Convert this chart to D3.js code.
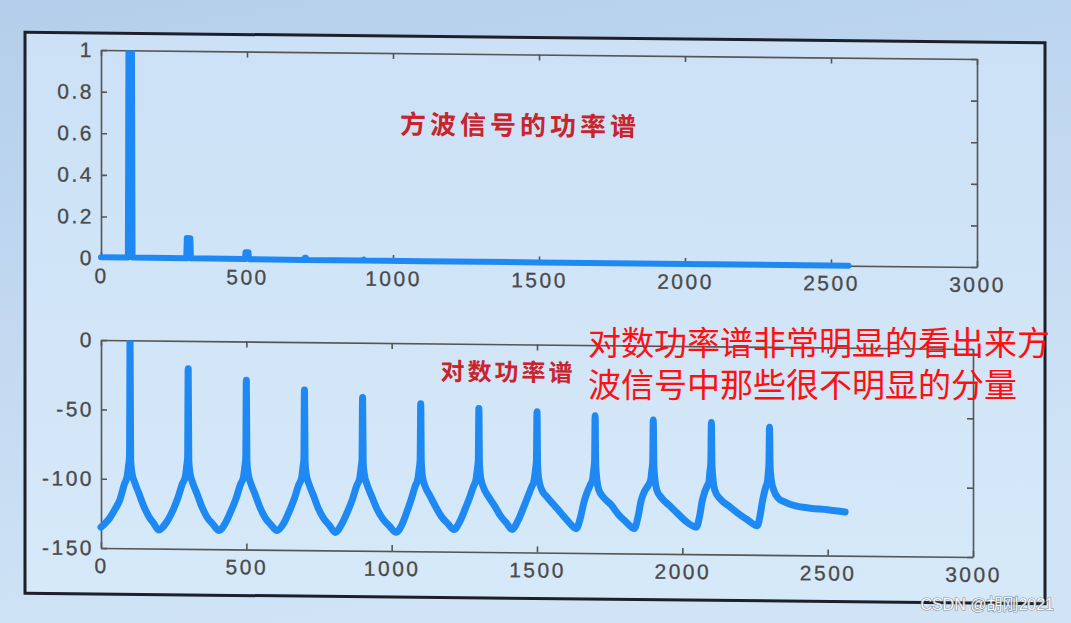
<!DOCTYPE html>
<html><head><meta charset="utf-8">
<script src="https://cdn.jsdelivr.net/npm/d3@7"></script>
<style>
html,body{margin:0;padding:0;background:#c6dcf2;}
svg{display:block;}
</style></head>
<body>
<svg id="chart" width="1071" height="623"></svg>
<script>
// ---------- data ----------
const xTicks = [0, 500, 1000, 1500, 2000, 2500, 3000];
const xTickLabels = ["0", "500", "1000", "1500", "2000", "2500", "3000"];
const topYTicks = [0, 0.2, 0.4, 0.6, 0.8, 1];
const topYTickLabels = ["0", "0.2", "0.4", "0.6", "0.8", "1"];
const botYTicks = [-150, -100, -50, 0];
const botYTickLabels = ["-150", "-100", "-50", "0"];

const topTitle = "方波信号的功率谱";
const botTitle = "对数功率谱";
const noteLines = ["对数功率谱非常明显的看出来方", "波信号中那些很不明显的分量"];
const watermark = "CSDN @胡刚2021";

// power spectrum (normalised)
const powerFreq  = [0, 92, 94, 106, 108, 292, 294, 306, 308, 493, 495, 505, 507, 696, 698, 702, 704, 897, 899, 901, 903, 1100, 1500, 2000, 2560];
const powerValue = [0.004, 0.004, 1, 1, 0.004, 0.003, 0.1, 0.1, 0.003, 0.002, 0.035, 0.035, 0.002, 0.001, 0.012, 0.012, 0.001, 0.001, 0.006, 0.006, 0.001, 0.001, 0.0005, 0.0003, 0];

// log power spectrum [frequency, dB]
const logSpectrum = [
 [0,-135],[15,-132],[31,-128],[48,-122],[65,-115],[80,-104],[90,-98],[95,-90],[98,-84],[100,0],
 [102,-86],[106,-95],[115,-102],[130,-110],[148,-120],[165,-127],[182,-132],[198,-136.5],
 [225,-131],[250,-121],[265,-113],[280,-103],[290,-98],[295,-90],[298,-84],[300,-20],
 [302,-86],[306,-95],[315,-102],[330,-110],[348,-120],[365,-127],[385,-132],[406,-136.5],
 [428,-131],[450,-121],[465,-113],[480,-103],[490,-98],[495,-90],[498,-84],[500,-28],
 [502,-86],[506,-95],[515,-102],[530,-110],[548,-120],[565,-127],[585,-132],[605,-136],
 [628,-131],[650,-121],[665,-113],[680,-103],[690,-98],[695,-90],[698,-84],[700,-34.5],
 [702,-86],[706,-95],[715,-102],[730,-110],[748,-120],[766,-127],[786,-132],[806,-137],
 [828,-131],[850,-121],[865,-113],[880,-103],[890,-98],[895,-90],[898,-84],[900,-39.5],
 [902,-86],[906,-95],[915,-102],[930,-110],[950,-120],[970,-127],[992,-132],[1015,-136.5],
 [1035,-131],[1055,-120],[1068,-112],[1081,-103],[1090,-98],[1095,-90],[1098,-84],[1100,-43.5],
 [1102,-86],[1106,-96],[1115,-103],[1132,-110],[1152,-118],[1172,-125],[1194,-130],[1214,-134],
 [1235,-128],[1255,-118],[1268,-111],[1281,-103],[1290,-98],[1295,-90],[1298,-84],[1300,-46.5],
 [1302,-86],[1306,-96],[1315,-103],[1333,-110],[1355,-117],[1375,-124],[1395,-129],[1414,-133.5],
 [1435,-127],[1455,-117],[1468,-110],[1481,-103],[1490,-98],[1495,-90],[1498,-84],[1500,-48.5],
 [1502,-86],[1506,-97],[1515,-104],[1535,-110],[1560,-116],[1585,-122],[1610,-128],[1635,-132.5],
 [1650,-124],[1662,-113],[1673,-106],[1683,-101],[1691,-97],[1695,-90],[1698,-84],[1700,-51],
 [1702,-86],[1706,-97],[1712,-104],[1730,-110],[1755,-115],[1780,-122],[1805,-127],[1835,-132],
 [1848,-123],[1858,-112],[1870,-105],[1882,-101],[1891,-97],[1895,-90],[1898,-84],[1900,-53.5],
 [1902,-86],[1906,-97],[1912,-104],[1930,-110],[1955,-115],[1980,-120],[2010,-126],[2048,-130.5],
 [2060,-122],[2068,-112],[2077,-105],[2085,-101],[2092,-97],[2095,-90],[2098,-84],[2100,-55],
 [2102,-86],[2106,-97],[2112,-104],[2130,-110],[2160,-115],[2190,-120],[2225,-125],[2258,-129],
 [2268,-121],[2275,-112],[2281,-106],[2287,-101],[2293,-97],[2296,-90],[2298,-84],[2300,-58],
 [2302,-86],[2306,-96],[2314,-103],[2330,-109],[2355,-112],[2390,-114.5],[2440,-116],[2500,-117],[2560,-118.5]
];

// ---------- drawing ----------
const svg = d3.select("#chart");
const defs = svg.append("defs");
const bgGrad = defs.append("linearGradient").attr("id","bg").attr("x1",0).attr("y1",0).attr("x2",0.3).attr("y2",1);
bgGrad.append("stop").attr("offset","0").attr("stop-color","#b4ceeb");
bgGrad.append("stop").attr("offset","1").attr("stop-color","#d0e4f6");
const frGrad = defs.append("linearGradient").attr("id","fr").attr("x1",0).attr("y1",0).attr("x2",0).attr("y2",1);
frGrad.append("stop").attr("offset","0").attr("stop-color","#cce1f6");
frGrad.append("stop").attr("offset","1").attr("stop-color","#d6e9f9");

svg.append("rect").attr("width",1071).attr("height",623).attr("fill","url(#bg)");

// photo is slightly skewed
const photo = svg.append("g").attr("transform","matrix(1,0.0103,0,1,0,0)");
photo.append("rect").attr("x",25).attr("y",32).attr("width",1020).attr("height",561)
  .attr("fill","url(#fr)").attr("stroke","#1d1f2a").attr("stroke-width",3);

const lineColor = "#1f89f3";
const axisColor = "#555555";

function drawPlot(g, x, y, yTicks, yLabels, id) {
  const [x0, x1] = x.range();
  const [y0, y1] = y.range(); // y0 bottom, y1 top
  defs.append("clipPath").attr("id", id).append("rect")
    .attr("x", x0 - 6).attr("y", y1).attr("width", x1 - x0 + 12).attr("height", y0 - y1 + 6);

  const xb = d3.axisBottom(x).tickValues(xTicks).tickFormat((d,i)=>xTickLabels[i]).tickSizeInner(-6).tickSizeOuter(0).tickPadding(10);
  const xt = d3.axisTop(x).tickValues(xTicks).tickFormat("").tickSizeInner(-6).tickSizeOuter(0);
  const yl = d3.axisLeft(y).tickValues(yTicks).tickFormat((d,i)=>yLabels[i]).tickSizeInner(-6).tickSizeOuter(0).tickPadding(7);
  const yr = d3.axisRight(y).tickValues(yTicks).tickFormat("").tickSizeInner(-6).tickSizeOuter(0);

  const axes = [
    g.append("g").attr("transform",`translate(0,${y0})`).call(xb),
    g.append("g").attr("transform",`translate(0,${y1})`).call(xt),
    g.append("g").attr("transform",`translate(${x0},0)`).call(yl),
    g.append("g").attr("transform",`translate(${x1},0)`).call(yr)
  ];
  axes.forEach(a => {
    a.select(".domain").attr("stroke", axisColor).attr("stroke-width", 1.6);
    a.selectAll(".tick line").attr("stroke", axisColor).attr("stroke-width", 1.6);
    a.selectAll(".tick text").attr("fill", "#4a4a4a").attr("font-size", 21)
      .attr("stroke", "#4a4a4a").attr("stroke-width", 0.3)
      .attr("font-family", "'Liberation Sans', Arial, sans-serif").attr("letter-spacing", 2.5);
  });
  return `url(#${id})`;
}

// top plot
const xTop = d3.scaleLinear().domain([0, 3000]).range([101, 977]);
const yTop = d3.scaleLinear().domain([0, 1]).range([257, 49]);
const gTop = photo.append("g");
const clipTop = drawPlot(gTop, xTop, yTop, topYTicks, topYTickLabels, "clipTop");
const topLine = d3.line().x((d,i)=>xTop(powerFreq[i])).y((d,i)=>yTop(powerValue[i]));
gTop.append("path").datum(powerFreq).attr("d", topLine).attr("clip-path", clipTop)
  .attr("fill","none").attr("stroke",lineColor).attr("stroke-width",6)
  .attr("stroke-linejoin","round").attr("stroke-linecap","round");
gTop.append("text").attr("x", 520).attr("y", 118).attr("text-anchor","middle").attr("dominant-baseline","central")
  .attr("font-family","'Noto Sans CJK SC', sans-serif").attr("font-weight",700).attr("font-size",26)
  .attr("letter-spacing",4).attr("fill","#c9232d").text(topTitle);

// bottom plot
const xBot = d3.scaleLinear().domain([0, 3000]).range([101, 973]);
const yBot = d3.scaleLinear().domain([-150, 0]).range([547, 339]);
const gBot = photo.append("g");
const clipBot = drawPlot(gBot, xBot, yBot, botYTicks, botYTickLabels, "clipBot");
const botLine = d3.line().x(d=>xBot(d[0])).y(d=>yBot(d[1])).curve(d3.curveMonotoneX);
gBot.append("path").datum(logSpectrum).attr("d", botLine).attr("clip-path", clipBot)
  .attr("fill","none").attr("stroke",lineColor).attr("stroke-width",7)
  .attr("stroke-linejoin","round").attr("stroke-linecap","round");
gBot.append("text").attr("x", 508).attr("y", 365).attr("text-anchor","middle").attr("dominant-baseline","central")
  .attr("font-family","'Noto Sans CJK SC', sans-serif").attr("font-weight",700).attr("font-size",24)
  .attr("letter-spacing",3).attr("fill","#c9232d").text(botTitle);

// overlay annotation (not part of photo)
const note = svg.append("g").attr("font-family","'Noto Sans CJK SC', sans-serif").attr("font-size",33).attr("fill","#ff1010");
note.selectAll("text").data(noteLines).join("text")
  .attr("x", 588).attr("y", (d,i)=> i===0 ? 355 : 397).text(d=>d);

svg.append("text").attr("x", 1054).attr("y", 610).attr("text-anchor","end")
  .attr("font-family","'Liberation Sans', 'Noto Sans CJK SC', sans-serif").attr("font-size",16)
  .attr("fill","#ffffff").attr("stroke","#7a8694").attr("stroke-width",1.2).attr("paint-order","stroke")
  .attr("opacity",0.9).text(watermark);
</script>
</body></html>
